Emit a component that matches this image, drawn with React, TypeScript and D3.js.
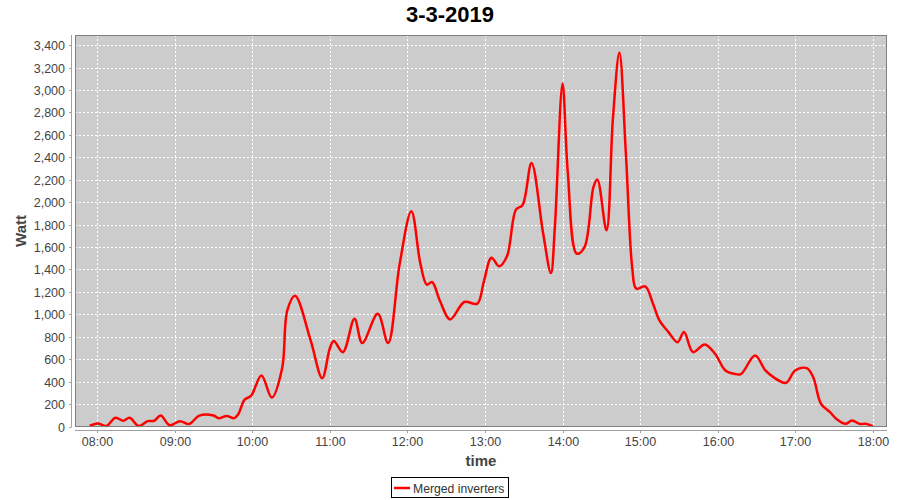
import React from "react";
import * as d3 from "d3";

const times: string[] = [
  "07:54","08:00","08:07","08:14","08:20","08:25","08:32","08:39","08:44","08:49",
  "08:56","09:04","09:11","09:19","09:30","09:34","09:40","09:46","09:49","09:54",
  "09:59","10:07","10:15","10:23","10:27","10:33","10:45","10:54","11:00","11:03",
  "11:10","11:19","11:25","11:37","11:45","11:54","12:03","12:10","12:15","12:19",
  "12:25","12:33","12:44","12:54","12:59","13:05","13:11","13:17","13:24","13:29",
  "13:36","13:45","13:51","13:54","14:00","14:04","14:11","14:17","14:24","14:27",
  "14:34","14:39","14:44","14:49","14:54","14:57","15:04","15:10","15:15","15:22",
  "15:29","15:34","15:41","15:50","15:58","16:06","16:13","16:18","16:29","16:37",
  "16:44","16:53","17:00","17:09","17:14","17:20","17:27","17:32","17:39","17:44",
  "17:50","17:55","18:00"
];

const watts: number[] = [
  5, 28, 5, 78, 52, 78, 5, 48, 52, 98,
  12, 48, 22, 98, 98, 75, 95, 75, 110, 240,
  275, 455, 258, 520, 1035, 1165, 770, 431, 700, 762,
  663, 961, 744, 1005, 744, 1452, 1919, 1452, 1264, 1288,
  1124, 955, 1110, 1095, 1288, 1505, 1428, 1517, 1934, 1972,
  2350, 1720, 1368, 1764, 3058, 2276, 1541, 1600, 2136, 2201,
  1749, 2746, 3332, 2439, 1407, 1229, 1250, 1095, 946, 842,
  752, 842, 663, 732, 649, 500, 470, 467, 634, 500,
  434, 390, 500, 520, 440, 203, 128, 68, 24, 54,
  24, 24, 3
];

const yTicks: number[] = [0, 200, 400, 600, 800, 1000, 1200, 1400, 1600, 1800, 2000, 2200, 2400, 2600, 2800, 3000, 3200, 3400];
const xTickLabels: string[] = ["08:00","09:00","10:00","11:00","12:00","13:00","14:00","15:00","16:00","17:00","18:00"];

const title = "3-3-2019";
const yLabel = "Watt";
const xLabel = "time";
const seriesName = "Merged inverters";

export default function App() {
  const parse = d3.timeParse("%H:%M");
  const data = times.map((t, i) => ({ t: parse(t) as Date, v: watts[i] }));

  const left = 75, right = 887, top = 35, bottom = 427;
  const x = d3
    .scaleTime()
    .domain([new Date(1900, 0, 1, 7, 42, 42), new Date(1900, 0, 1, 18, 11, 6)])
    .range([left, right]);
  const y = d3.scaleLinear().domain([-4, 3490]).range([bottom, top]);

  const line = d3
    .line<{ t: Date; v: number }>()
    .x((d) => x(d.t))
    .y((d) => y(d.v))
    .curve(d3.curveCatmullRom.alpha(0.5));

  const fmt = d3.format(",");
  const tickFont = "'Liberation Sans', Arial, sans-serif";

  return (
    <svg
      width={900}
      height={500}
      style={{ position: "absolute", left: 0, top: 0, background: "#fff" }}
    >
      <text x={450} y={22} textAnchor="middle" fontFamily={tickFont} fontWeight="bold" fontSize={22} fill="#000">
        {title}
      </text>
      <rect x={left} y={top} width={right - left} height={bottom - top} fill="#cccccc" />
      {yTicks.map((t) => (
        <line key={"gy" + t} x1={left} x2={right} y1={Math.round(y(t)) + 0.5} y2={Math.round(y(t)) + 0.5} stroke="#ffffff" strokeWidth={1} strokeDasharray="2,2" />
      ))}
      {xTickLabels.map((s) => {
        const xx = Math.round(x(parse(s) as Date)) + 0.5;
        return <line key={"gx" + s} x1={xx} x2={xx} y1={top} y2={bottom} stroke="#ffffff" strokeWidth={1} strokeDasharray="2,2" />;
      })}
      <path d={line(data) || ""} fill="none" stroke="#ff0000" strokeWidth={2.5} strokeLinejoin="round" />
      <rect x={left + 0.5} y={top + 0.5} width={right - left - 1} height={bottom - top - 1} fill="none" stroke="#808080" strokeWidth={1} />
      {/* y axis */}
      <line x1={71.5} x2={71.5} y1={top} y2={bottom} stroke="#a0a0a0" />
      {yTicks.map((t) => {
        const yy = Math.round(y(t)) + 0.5;
        return (
          <g key={"yt" + t}>
            <line x1={69} x2={71.5} y1={yy} y2={yy} stroke="#a0a0a0" />
            <text x={65} y={yy + 4.5} textAnchor="end" fontFamily={tickFont} fontSize={12.5} fill="#444">
              {fmt(t)}
            </text>
          </g>
        );
      })}
      {/* x axis */}
      <line x1={left} x2={right} y1={430.5} y2={430.5} stroke="#a0a0a0" />
      {xTickLabels.map((s) => {
        const xx = Math.round(x(parse(s) as Date)) + 0.5;
        return (
          <g key={"xt" + s}>
            <line x1={xx} x2={xx} y1={430.5} y2={433} stroke="#a0a0a0" />
            <text x={xx} y={446} textAnchor="middle" fontFamily={tickFont} fontSize={12.5} fill="#444">
              {s}
            </text>
          </g>
        );
      })}
      <text x={(left + right) / 2} y={465.5} textAnchor="middle" fontFamily={tickFont} fontWeight="bold" fontSize={15} fill="#444">
        {xLabel}
      </text>
      <text transform={`translate(25.5, ${(top + bottom) / 2}) rotate(-90)`} textAnchor="middle" fontFamily={tickFont} fontWeight="bold" fontSize={15} fill="#444">
        {yLabel}
      </text>
      {/* legend */}
      <rect x={391.5} y={477.5} width={117} height={20} fill="#fff" stroke="#000" strokeWidth={1} />
      <line x1={394} x2={410} y1={488} y2={488} stroke="#ff0000" strokeWidth={2.5} />
      <text x={413} y={492.5} fontFamily={tickFont} fontSize={12.2} fill="#333">
        {seriesName}
      </text>
    </svg>
  );
}
